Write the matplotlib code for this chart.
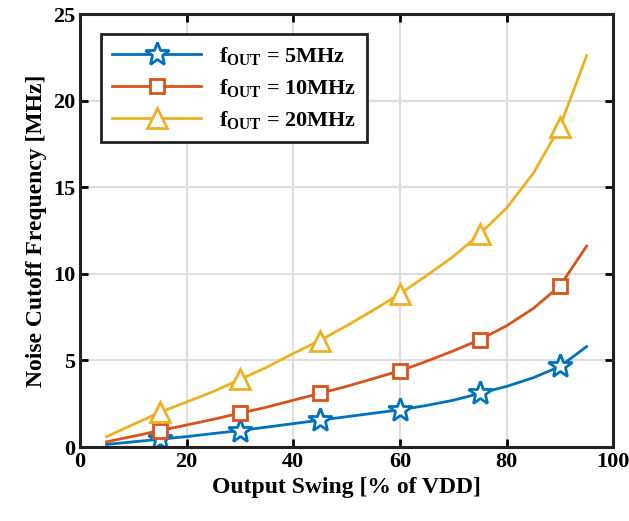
import matplotlib.pyplot as plt
import numpy as np

plt.rcParams['font.family'] = ['Liberation Serif', 'DejaVu Serif']
plt.rcParams['font.weight'] = 'bold'
plt.rcParams['mathtext.fontset'] = 'custom'
plt.rcParams['mathtext.rm'] = 'Liberation Serif:bold'
plt.rcParams['mathtext.bf'] = 'Liberation Serif:bold'
plt.rcParams['mathtext.it'] = 'Liberation Serif:bold'

swing = [5, 10, 15, 20, 25, 30, 35, 40, 45, 50, 55, 60, 65, 70, 75, 80, 85, 90, 95]
f5 = [0.15, 0.3, 0.45, 0.6, 0.78, 0.95, 1.15, 1.35, 1.55, 1.75, 1.95, 2.15, 2.4, 2.7, 3.1, 3.5, 4.0, 4.65, 5.8]
f10 = [0.3, 0.62, 0.95, 1.27, 1.6, 1.95, 2.3, 2.7, 3.1, 3.5, 3.95, 4.4, 4.95, 5.55, 6.2, 7.0, 8.0, 9.3, 11.6]
f20 = [0.6, 1.3, 2.0, 2.6, 3.2, 3.9, 4.6, 5.4, 6.15, 7.0, 7.9, 8.85, 9.9, 11.0, 12.3, 13.8, 15.8, 18.5, 22.6]
labels = [r'$\mathbf{f_{OUT}}$ = 5MHz', r'$\mathbf{f_{OUT}}$ = 10MHz', r'$\mathbf{f_{OUT}}$ = 20MHz']

fig = plt.figure(figsize=(6.29, 5.21), dpi=100)
ax = fig.add_axes([0.127, 0.142, 0.848, 0.831])

mk = slice(2, 18, 3)
ax.plot(swing, f5, color='#0072BD', lw=2, marker='*', ms=18, mfc='white', mew=2, markevery=mk, label=labels[0])
ax.plot(swing, f10, color='#D95319', lw=2, marker='s', ms=10, mfc='white', mew=2, markevery=mk, label=labels[1])
ax.plot(swing, f20, color='#EDB120', lw=2, marker='^', ms=15, mfc='white', mew=2, markevery=mk, label=labels[2])

ax.set_xlim(0, 100)
ax.set_ylim(0, 25)
ax.set_xticks(np.arange(0, 101, 20))
ax.set_yticks(np.arange(0, 26, 5))
ax.grid(True, color='#dddddd', lw=1.5)
ax.set_axisbelow(True)
ax.tick_params(direction='in', top=True, right=True, length=6, width=2, labelsize=16)
for s in ax.spines.values():
    s.set_linewidth(2.2)
    s.set_color('#222222')
ax.set_xlabel('Output Swing [% of VDD]', fontsize=17, fontweight='bold')
ax.set_ylabel('Noise Cutoff Frequency [MHz]', fontsize=17, fontweight='bold')

leg = ax.legend(loc='upper left', fontsize=16, fancybox=False, framealpha=1,
                edgecolor='#222222', handlelength=4.0, borderpad=0.5, labelspacing=0.45,
                bbox_to_anchor=(0.04, 0.955), borderaxespad=0)
leg.get_frame().set_linewidth(2)

fig.savefig('out.png', dpi=100)
